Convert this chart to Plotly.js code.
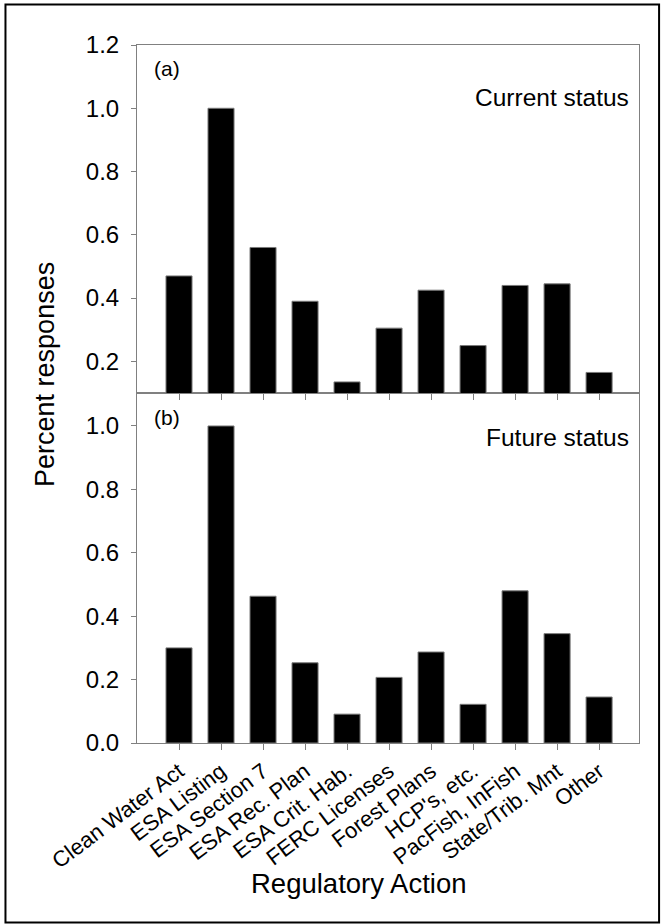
<!DOCTYPE html>
<html>
<head>
<meta charset="utf-8">
<script src="https://cdn.plot.ly/plotly-3.0.1.min.js"></script>
<style>
  html, body { margin: 0; padding: 0; background: #fff; }
  #chart { width: 663px; height: 924px; }
</style>
</head>
<body>
<div id="chart"></div>
<script>
const categories = ["Clean Water Act", "ESA Listing", "ESA Section 7", "ESA Rec. Plan", "ESA Crit. Hab.",
  "FERC Licenses", "Forest Plans", "HCP's, etc.", "PacFish, InFish", "State/Trib. Mnt", "Other"];
const currentStatus = [0.47, 1.00, 0.56, 0.39, 0.135, 0.305, 0.425, 0.25, 0.44, 0.445, 0.165];
const futureStatus  = [0.30, 1.00, 0.463, 0.253, 0.091, 0.207, 0.287, 0.122, 0.48, 0.345, 0.145];
const topTicks = [0.2, 0.4, 0.6, 0.8, 1.0, 1.2];
const bottomTicks = [0.0, 0.2, 0.4, 0.6, 0.8, 1.0];

const FONT = "Liberation Sans, Arial, Helvetica, sans-serif";
const AX = "#808080";

const barStyle = { color: "#000000", line: { color: "#7a7a7a", width: 1 } };

const traces = [
  { type: "bar", x: categories, y: currentStatus, xaxis: "x2", yaxis: "y2",
    width: 0.62, marker: barStyle, hoverinfo: "x+y" },
  { type: "bar", x: categories, y: futureStatus, xaxis: "x", yaxis: "y",
    width: 0.62, marker: barStyle, hoverinfo: "x+y" }
];

const split = 350 / 698;

const axisCommon = {
  showline: true, linecolor: AX, linewidth: 1, mirror: true,
  showgrid: false, zeroline: false,
  ticks: "outside", tickcolor: AX, tickwidth: 1,
  tickfont: { family: FONT, size: 24, color: "#000" }
};

const layout = {
  width: 663, height: 924,
  margin: { l: 137, r: 24, t: 45, b: 181, pad: 0 },
  paper_bgcolor: "#fff", plot_bgcolor: "#fff",
  showlegend: false,
  font: { family: FONT, color: "#000" },
  xaxis: Object.assign({}, axisCommon, {
    anchor: "y", domain: [0, 1], type: "category", range: [-1, 10.95],
    tickangle: -37, ticklen: 6, tickfont: { family: FONT, size: 22, color: "#000" }
  }),
  xaxis2: Object.assign({}, axisCommon, {
    anchor: "y2", domain: [0, 1], type: "category", range: [-1, 10.95],
    matches: "x", showticklabels: false, ticklen: 6
  }),
  yaxis: Object.assign({}, axisCommon, {
    anchor: "x", domain: [0, split], range: [0, 1.104],
    tickvals: bottomTicks, ticktext: bottomTicks.map(v => v.toFixed(1)), ticklen: 5,
    ticklabelstandoff: 7
  }),
  yaxis2: Object.assign({}, axisCommon, {
    anchor: "x2", domain: [split, 1], range: [0.1, 1.2],
    tickvals: topTicks, ticktext: topTicks.map(v => v.toFixed(1)), ticklen: 5,
    ticklabelstandoff: 7
  }),
  annotations: [
    { text: "Percent responses", xref: "paper", yref: "paper", x: -0.1833, y: 0.5287,
      xanchor: "center", yanchor: "middle", textangle: -90, showarrow: false,
      font: { family: FONT, size: 27, color: "#000" } },
    { text: "Regulatory Action", xref: "paper", yref: "paper", x: 0.442, y: -0.2006,
      xanchor: "center", yanchor: "middle", showarrow: false,
      font: { family: FONT, size: 27.5, color: "#000" } },
    { text: "(a)", xref: "paper", yref: "paper", x: 0.030, y: 0.966,
      xanchor: "left", yanchor: "middle", showarrow: false,
      font: { family: FONT, size: 21, color: "#000" } },
    { text: "Current status", xref: "paper", yref: "paper", x: 0.985, y: 0.925,
      xanchor: "right", yanchor: "middle", showarrow: false,
      font: { family: FONT, size: 24.5, color: "#000" } },
    { text: "(b)", xref: "paper", yref: "paper", x: 0.030, y: 0.466,
      xanchor: "left", yanchor: "middle", showarrow: false,
      font: { family: FONT, size: 21, color: "#000" } },
    { text: "Future status", xref: "paper", yref: "paper", x: 0.985, y: 0.438,
      xanchor: "right", yanchor: "middle", showarrow: false,
      font: { family: FONT, size: 24.5, color: "#000" } }
  ],
  shapes: [
    { type: "rect", xref: "paper", yref: "paper",
      x0: -0.262, x1: 1.040, y0: -0.257, y1: 1.058,
      line: { color: "#000", width: 2 }, fillcolor: "rgba(0,0,0,0)", layer: "above" }
  ]
};

Plotly.newPlot("chart", traces, layout, { displayModeBar: false, staticPlot: true });
</script>
</body>
</html>
